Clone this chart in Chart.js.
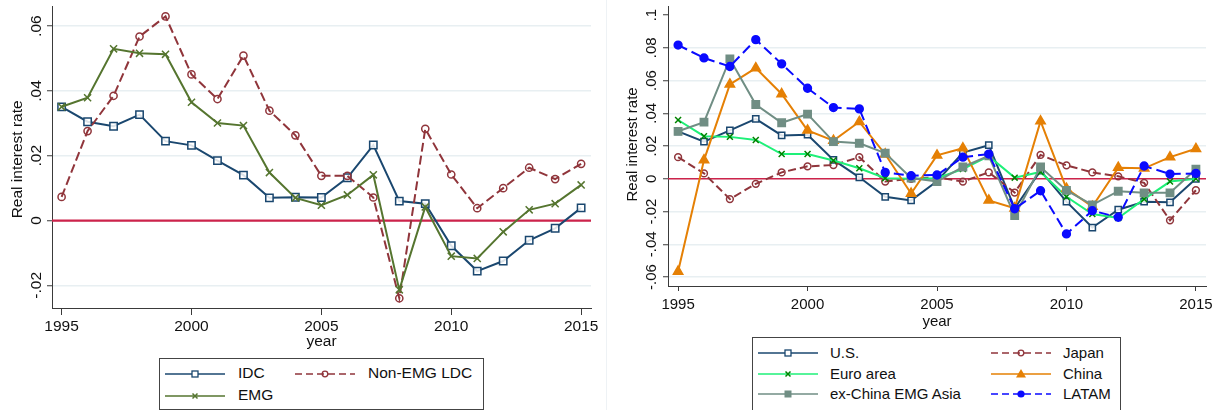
<!DOCTYPE html>
<html>
<head>
<meta charset="utf-8">
<script src="https://cdn.jsdelivr.net/npm/chart.js@4.4.1/dist/chart.umd.min.js"></script>
<style>
  html, body { margin: 0; padding: 0; background: #fff; }
  body { width: 1224px; height: 410px; position: relative; overflow: hidden;
         font-family: "Liberation Sans", Arial, sans-serif; color: #111; }
  canvas { position: absolute; top: 0; }
  #left { left: 0; }
  #right { left: 612px; }
  .sep { position: absolute; left: 606px; top: 0; width: 1px; height: 410px; background: #eef2f5; }
  .legend { position: absolute; border: 1px solid #444; background: #fff; box-sizing: border-box; }
  .key { position: absolute; }
  .lbl { position: absolute; white-space: nowrap; line-height: 1; }
</style>
</head>
<body>
<canvas id="left" width="606" height="360"></canvas>
<div class="sep"></div>
<canvas id="right" width="612" height="335"></canvas>
<div id="legends"></div>
<script>
// ---- data -------------------------------------------------------------
const years = [1995, 1996, 1997, 1998, 1999, 2000, 2001, 2002, 2003, 2004, 2005,
               2006, 2007, 2008, 2009, 2010, 2011, 2012, 2013, 2014, 2015];
const xTickValues = [1995, 2000, 2005, 2010, 2015];
const xTickLabels = ['1995', '2000', '2005', '2010', '2015'];

// Left panel: country groups
const groupNames = ['IDC', 'Non-EMG LDC', 'EMG'];
const idc       = [0.0351, 0.0305, 0.0291, 0.0327, 0.0245, 0.0232, 0.0185, 0.0140, 0.0070, 0.0072, 0.0071,
                   0.0132, 0.0233, 0.0060, 0.0052, -0.0078, -0.0156, -0.0125, -0.0061, -0.0024, 0.0039];
const nonEmgLdc = [0.0073, 0.0276, 0.0385, 0.0568, 0.0630, 0.0451, 0.0375, 0.0509, 0.0339, 0.0263, 0.0138,
                   0.0138, 0.0071, -0.0240, 0.0283, 0.0142, 0.0038, 0.0100, 0.0163, 0.0128, 0.0175];
const emg       = [0.0351, 0.0379, 0.0530, 0.0516, 0.0513, 0.0365, 0.0301, 0.0293, 0.0148, 0.0070, 0.0047,
                   0.0079, 0.0141, -0.0214, 0.0042, -0.0110, -0.0117, -0.0035, 0.0033, 0.0052, 0.0110];
const leftYTicks  = [-0.02, 0, 0.02, 0.04, 0.06];
const leftYLabels = ['-.02', '0', '.02', '.04', '.06'];

// Right panel: economies
const regionNames = ['U.S.', 'Japan', 'Euro area', 'China', 'ex-China EMG Asia', 'LATAM'];
const us          = [0.0290, 0.0227, 0.0296, 0.0366, 0.0265, 0.0269, 0.0115, 0.0009, -0.0110, -0.0132, -0.0015,
                     0.0160, 0.0205, -0.0180, 0.0050, -0.0140, -0.0298, -0.0189, -0.0140, -0.0144, 0.0000];
const japan       = [0.0132, 0.0033, -0.0124, -0.0031, 0.0039, 0.0076, 0.0084, 0.0132, -0.0017, 0.0000, 0.0010,
                     -0.0017, 0.0039, -0.0084, 0.0146, 0.0082, 0.0039, 0.0015, -0.0025, -0.0254, -0.0070];
const euroArea    = [0.0359, 0.0260, 0.0256, 0.0237, 0.0151, 0.0151, 0.0112, 0.0064, 0.0003, 0.0000, 0.0003,
                     0.0060, 0.0138, 0.0007, 0.0042, -0.0110, -0.0215, -0.0240, -0.0124, -0.0017, 0.0000];
const china       = [-0.0566, 0.0114, 0.0577, 0.0676, 0.0518, 0.0296, 0.0233, 0.0348, 0.0150, -0.0090, 0.0143,
                     0.0187, -0.0132, -0.0180, 0.0352, -0.0060, -0.0170, 0.0068, 0.0064, 0.0132, 0.0183];
const exChinaAsia = [0.0290, 0.0346, 0.0732, 0.0454, 0.0342, 0.0395, 0.0227, 0.0217, 0.0157, 0.0005, -0.0017,
                     0.0072, 0.0140, -0.0225, 0.0072, -0.0071, -0.0159, -0.0076, -0.0086, -0.0086, 0.0058];
const latam       = [0.0817, 0.0738, 0.0686, 0.0850, 0.0702, 0.0553, 0.0435, 0.0427, 0.0039, 0.0019, 0.0023,
                     0.0132, 0.0151, -0.0183, -0.0073, -0.0337, -0.0195, -0.0235, 0.0078, 0.0029, 0.0033];
const rightYTicks  = [-0.06, -0.04, -0.02, 0, 0.02, 0.04, 0.06, 0.08, 0.1];
const rightYLabels = ['-.06', '-.04', '-.02', '0', '.02', '.04', '.06', '.08', '.1'];

const yTitle = 'Real interest rate';
const xTitle = 'year';

// ---- styles -----------------------------------------------------------
const NAVY = 'rgb(26,71,111)';
const MAROON = 'rgb(144,53,59)';
const FOREST = 'rgb(85,117,47)';
const SPRING = 'rgb(30,240,120)';
const DKGREEN = 'rgb(0,130,0)';
const ORANGE = 'rgb(229,128,5)';
const TEAL = 'rgb(112,142,132)';
const BLUE = 'rgb(10,10,255)';
const ZERO = 'rgb(205,35,75)';
const GRID = 'rgb(232,239,242)';
const AXIS = '#3a3a3a';
const FONT = '"Liberation Sans", Arial, sans-serif';

function pts(values) { return years.map((yr, i) => ({ x: yr, y: values[i] })); }

function series(label, values, s) {
  return {
    label, data: pts(values),
    borderColor: s.line, borderWidth: s.width || 2, borderDash: s.dash || [],
    pointStyle: s.marker, pointRadius: s.radius, pointHoverRadius: s.radius,
    pointBorderColor: s.markerLine || s.line, pointBackgroundColor: s.fill,
    pointBorderWidth: s.markerWidth || 1.5, tension: 0, clip: false, fill: false
  };
}

// Axis decoration: zero reference line, rotated y tick labels, axis titles
function decor(cfg) {
  return {
    id: 'decor',
    beforeDatasetsDraw(chart) {
      const { ctx, chartArea: a, scales: { y } } = chart;
      const py = y.getPixelForValue(0);
      ctx.save();
      ctx.strokeStyle = ZERO; ctx.lineWidth = cfg.zeroWidth;
      ctx.beginPath(); ctx.moveTo(a.left, py); ctx.lineTo(a.right, py); ctx.stroke();
      ctx.restore();
    },
    afterDraw(chart) {
      const { ctx, chartArea: a, scales: { y } } = chart;
      ctx.save();
      ctx.fillStyle = '#111';
      ctx.textAlign = 'center'; ctx.textBaseline = 'middle';
      ctx.font = cfg.tickSize + 'px ' + FONT;
      cfg.yTicks.forEach((v, i) => {
        ctx.save();
        ctx.translate(cfg.tickX, y.getPixelForValue(v));
        ctx.rotate(-Math.PI / 2);
        ctx.fillText(cfg.yLabels[i], 0, 0);
        ctx.restore();
      });
      ctx.font = cfg.titleSize + 'px ' + FONT;
      ctx.save();
      ctx.translate(cfg.titleX, (a.top + a.bottom) / 2 + cfg.titleShift);
      ctx.rotate(-Math.PI / 2);
      ctx.fillText(yTitle, 0, 0);
      ctx.restore();
      ctx.fillText(xTitle, (a.left + a.right) / 2, cfg.yearY);
      ctx.restore();
    }
  };
}

function makeChart(id, datasets, cfg) {
  const n = datasets.length;
  datasets.forEach((d, i) => { d.order = n - 1 - i; });   // later series on top
  return new Chart(document.getElementById(id), {
    type: 'line',
    data: { datasets },
    options: {
      responsive: false, animation: false, devicePixelRatio: 1,
      layout: { padding: { left: 0, right: cfg.padRight, top: 0, bottom: 0 } },
      plugins: { legend: { display: false }, tooltip: { enabled: false } },
      events: [],
      scales: {
        x: {
          type: 'linear', position: 'bottom', min: cfg.xMin, max: cfg.xMax,
          afterBuildTicks: s => { s.ticks = xTickValues.map(v => ({ value: v })); },
          afterFit: s => { s.height = cfg.xAxisHeight; s.paddingLeft = 0; s.paddingRight = 0; },
          ticks: {
            autoSkip: false, maxRotation: 0, minRotation: 0, padding: cfg.xTickPad,
            color: '#111', font: { family: FONT, size: cfg.tickSize },
            callback: (v) => xTickLabels[xTickValues.indexOf(v)] ?? ''
          },
          grid: { drawOnChartArea: false, drawTicks: true, tickLength: cfg.xTickLen, tickColor: AXIS, tickWidth: 1 },
          border: { display: true, color: AXIS, width: 1 }
        },
        y: {
          type: 'linear', position: 'left', min: cfg.yMin, max: cfg.yMax,
          afterBuildTicks: s => { s.ticks = cfg.yTicks.map(v => ({ value: v })); },
          afterFit: s => { s.width = cfg.yAxisWidth; s.paddingTop = 0; s.paddingBottom = 0; },
          ticks: { color: 'rgba(0,0,0,0)', font: { family: FONT, size: cfg.tickSize }, padding: 0 },
          grid: {
            color: c => (c.tick && c.tick.value >= cfg.yGridCap) ? 'rgba(0,0,0,0)' : GRID,
            lineWidth: 1.5, drawTicks: true, tickLength: 5, tickColor: AXIS, tickWidth: 1
          },
          border: { display: true, color: AXIS, width: 1 }
        }
      }
    },
    plugins: [decor(cfg)]
  });
}

// ---- left panel -------------------------------------------------------
const leftSets = [
  series(groupNames[0], idc,       { line: NAVY,   marker: 'rect',     radius: 5.2, fill: 'rgba(255,255,255,0.85)' }),
  series(groupNames[1], nonEmgLdc, { line: MAROON, marker: 'circle',   radius: 3.6, fill: 'rgba(0,0,0,0)', dash: [9, 4] }),
  series(groupNames[2], emg,       { line: FOREST, marker: 'crossRot', radius: 5,   fill: FOREST })
];
makeChart('left', leftSets, {
  xMin: 1994.63, xMax: 2015.38, yMin: -0.027, yMax: 0.066, yGridCap: 1,
  yTicks: leftYTicks, yLabels: leftYLabels,
  padRight: 15, yAxisWidth: 52, xAxisHeight: 52, xTickLen: 7, xTickPad: 2,
  tickSize: 15.5, titleSize: 15.5, tickX: 36.5, titleX: 17.5, titleShift: 2, yearY: 342,
  zeroWidth: 2.2
});

// ---- right panel ------------------------------------------------------
const rightSets = [
  series(regionNames[0], us,          { line: NAVY,   marker: 'rect',     radius: 4.4, fill: 'rgba(255,255,255,0.85)' }),
  series(regionNames[1], japan,       { line: MAROON, marker: 'circle',   radius: 3.4, fill: 'rgba(0,0,0,0)', dash: [8, 4] }),
  series(regionNames[2], euroArea,    { line: SPRING, marker: 'crossRot', radius: 4.2, fill: DKGREEN, markerLine: DKGREEN }),
  series(regionNames[3], china,       { line: ORANGE, marker: 'triangle', radius: 5.4, fill: ORANGE }),
  series(regionNames[4], exChinaAsia, { line: TEAL,   marker: 'rect',     radius: 5.2, fill: TEAL }),
  series(regionNames[5], latam,       { line: BLUE,   marker: 'circle',   radius: 3.9, fill: BLUE, dash: [10, 5] })
];
makeChart('right', rightSets, {
  xMin: 1994.61, xMax: 2015.39, yMin: -0.0655, yMax: 0.105, yGridCap: 0.095,
  yTicks: rightYTicks, yLabels: rightYLabels,
  padRight: 18, yAxisWidth: 56, xAxisHeight: 49, xTickLen: 5, xTickPad: 5,
  tickSize: 15, titleSize: 15, tickX: 40, titleX: 21, titleShift: -2, yearY: 322,
  zeroWidth: 1.5
});

// ---- legends ----------------------------------------------------------
function markerSvg(kind, color, fill) {
  const c = 30, m = 7;
  switch (kind) {
    case 'rect':     return `<rect x="${c - 3}" y="${m - 3}" width="6" height="6" fill="${fill}" stroke="${color}" stroke-width="1.3"/>`;
    case 'rectFill': return `<rect x="${c - 3.5}" y="${m - 3.5}" width="7" height="7" fill="${fill}"/>`;
    case 'circle':   return `<circle cx="${c}" cy="${m}" r="2.8" fill="${fill}" stroke="${color}" stroke-width="1.3"/>`;
    case 'dot':      return `<circle cx="${c}" cy="${m}" r="3.6" fill="${fill}"/>`;
    case 'cross':    return `<path d="M${c - 2.5} ${m - 2.5}L${c + 2.5} ${m + 2.5}M${c - 2.5} ${m + 2.5}L${c + 2.5} ${m - 2.5}" stroke="${color}" stroke-width="1.5"/>`;
    case 'tri':      return `<path d="M${c} ${m - 5}L${c + 5} ${m + 3.5}L${c - 5} ${m + 3.5}Z" fill="${fill}"/>`;
  }
  return '';
}

function addLegend(box, items, fontSize) {
  const host = document.getElementById('legends');
  const b = document.createElement('div');
  b.className = 'legend';
  Object.assign(b.style, { left: box.x + 'px', top: box.y + 'px', width: box.w + 'px', height: box.h + 'px' });
  host.appendChild(b);
  items.forEach(it => {
    const k = document.createElement('div');
    k.className = 'key';
    Object.assign(k.style, { left: it.lx + 'px', top: (it.cy - 7) + 'px' });
    const dash = it.dash ? `stroke-dasharray="${it.dash}"` : '';
    k.innerHTML = `<svg width="60" height="14" viewBox="0 0 60 14">
      <line x1="0" y1="7" x2="60" y2="7" stroke="${it.line}" stroke-width="1.6" ${dash}/>
      ${markerSvg(it.marker, it.markerColor || it.line, it.fill)}</svg>`;
    host.appendChild(k);
    const t = document.createElement('div');
    t.className = 'lbl';
    t.textContent = it.label;
    Object.assign(t.style, { left: it.tx + 'px', top: (it.cy - fontSize / 2 - 1) + 'px', fontSize: fontSize + 'px' });
    host.appendChild(t);
  });
}

addLegend({ x: 159, y: 358, w: 325, h: 52 }, [
  { label: groupNames[0], lx: 165, tx: 238, cy: 374, line: NAVY,   marker: 'rect',   fill: '#fff' },
  { label: groupNames[1], lx: 295, tx: 368, cy: 374, line: MAROON, marker: 'circle', fill: 'none', dash: '7 4' },
  { label: groupNames[2], lx: 165, tx: 238, cy: 396, line: FOREST, marker: 'cross',  fill: 'none' }
], 15.5);

addLegend({ x: 752, y: 337, w: 369, h: 74 }, [
  { label: regionNames[0], lx: 758, tx: 830,  cy: 353, line: NAVY,   marker: 'rect',     fill: '#fff' },
  { label: regionNames[1], lx: 991, tx: 1063, cy: 353, line: MAROON, marker: 'circle',   fill: 'none', dash: '7 4' },
  { label: regionNames[2], lx: 758, tx: 830,  cy: 374, line: SPRING, marker: 'cross',    fill: 'none', markerColor: DKGREEN },
  { label: regionNames[3], lx: 991, tx: 1063, cy: 374, line: ORANGE, marker: 'tri',      fill: ORANGE },
  { label: regionNames[4], lx: 758, tx: 830,  cy: 394, line: TEAL,   marker: 'rectFill', fill: TEAL },
  { label: regionNames[5], lx: 991, tx: 1063, cy: 394, line: BLUE,   marker: 'dot',      fill: BLUE, dash: '7 4' }
], 15);
</script>
</body>
</html>
